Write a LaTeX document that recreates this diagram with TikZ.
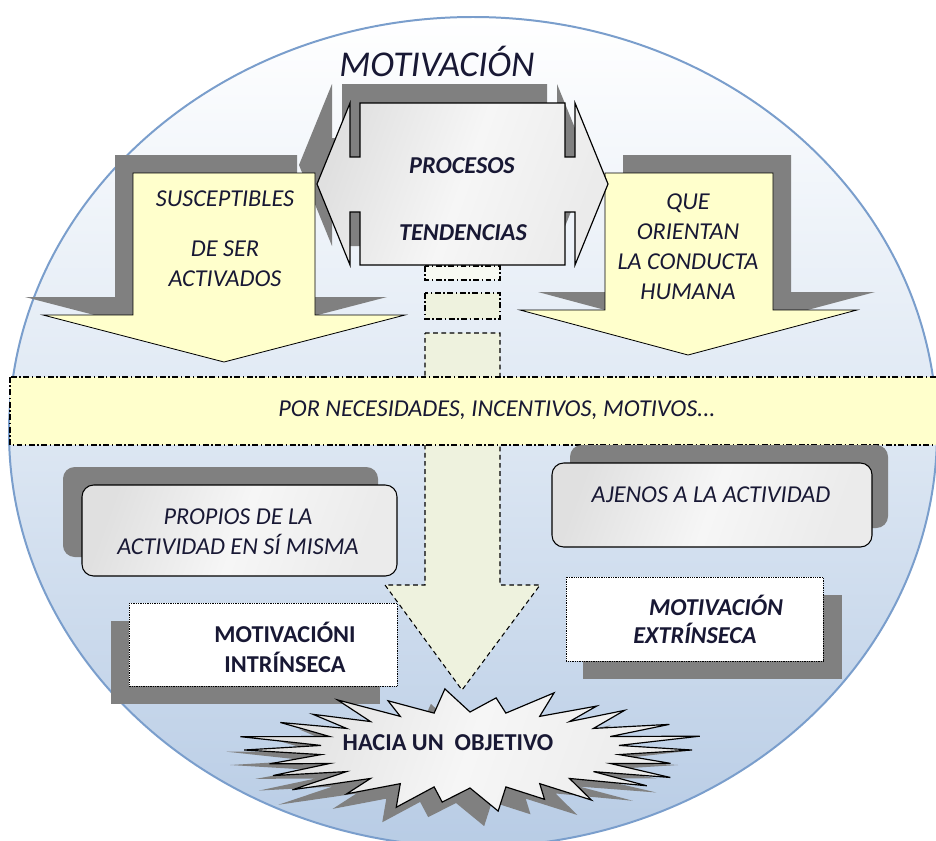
\documentclass[tikz,border=0pt]{standalone}
\usepackage{fontspec}
\setmainfont{Carlito}
\usetikzlibrary{positioning}

\definecolor{ink}{RGB}{24,24,52}
\definecolor{paleyellow}{RGB}{255,255,204}
\definecolor{shadowgray}{RGB}{128,128,128}
\definecolor{rimblue}{RGB}{122,158,204}
\definecolor{skymid}{RGB}{221,231,243}
\definecolor{skylow}{RGB}{184,204,229}
\definecolor{palegreen}{RGB}{238,242,222}

\newcommand{\bodytext}{\fontsize{20.7}{25.5}\selectfont}
% outlines reused for the shapes and their shadows
\newcommand{\hubpath}{(360,103) -- (565,103) -- (565,157) -- (575,157) -- (575,103) -- (608,184) -- (575,265) -- (575,212) -- (565,212) -- (565,265) -- (360,265) -- (360,212) -- (350,212) -- (350,265) -- (317,184) -- (350,103) -- (350,157) -- (360,157) -- cycle}
\newcommand{\leftdrop}{(133,173) -- (315,173) -- (315,315) -- (405,315) -- (224,362) -- (43,315) -- (133,315) -- cycle}
\newcommand{\rightdrop}{(605,173) -- (773,173) -- (773,310) -- (857,310) -- (688,355) -- (520,310) -- (605,310) -- cycle}
\newcommand{\goalstar}{(692,750) \foreach \i [evaluate=\i as \rx using {isodd(\i) ? 150 : 222*(1+0.07*sin(\i*131))}, evaluate=\i as \ry using {isodd(\i) ? 38 : 57*(1+0.08*sin(\i*97))}] in {1,...,51} { -- ({470+\rx*cos(\i/52*360)}, {750+\ry*sin(\i/52*360)}) } -- cycle}

\begin{document}
\begin{tikzpicture}[x=0.03cm, y=-0.03cm,
    shadow/.style={fill=shadowgray, draw=none},
    yellowarrow/.style={fill=paleyellow, draw=black, line width=0.7pt},
    marble/.style={draw=black, line width=0.9pt, left color=gray!24, right color=gray!16, middle color=gray!7, shading angle=70},
    whitebox/.style={fill=white, draw=black, line width=0.8pt, dash pattern=on 0.6pt off 0.9pt},
    dashdot/.style={draw=black, line width=0.9pt, dash pattern=on 5pt off 2.2pt on 1.2pt off 2.2pt},
    txt/.style={text=ink, align=center, inner sep=0pt, font=\bodytext},
    itxt/.style={txt, font=\itshape\bodytext},
    btxt/.style={txt, font=\bfseries\bodytext},
    bitxt/.style={txt, font=\bfseries\itshape\bodytext}
]
\useasboundingbox (0,0) rectangle (936,840);

% background disc
\draw[rimblue, line width=1.7pt, top color=white, bottom color=skylow, middle color=skymid] (473,432) ellipse [x radius=464, y radius=415];

% down arrow towards the goal
\path[fill=palegreen, draw=black, line width=0.9pt, dash pattern=on 4pt off 3pt] (425,333) -- (500,333) -- (500,585) -- (540,585) -- (462,690) -- (385,585) -- (425,585) -- cycle;
\draw[dashdot, fill=white!60!palegreen] (425,266) rectangle (500,280);
\draw[dashdot, fill=palegreen] (425,293) rectangle (500,319);

% shadows of the top shapes
\fill[shadow, shift={(-18,-19)}] \hubpath;
\fill[shadow, shift={(-18,-18)}] \leftdrop;
\fill[shadow, shift={(18,-18)}] \rightdrop;

% yellow arrows and central box
\path[yellowarrow] \leftdrop;
\path[yellowarrow] \rightdrop;
\path[marble, line width=1pt] \hubpath;

% band
\path[dashdot, fill=paleyellow] (10,377) rectangle (945,445);

% marble boxes
\fill[shadow, rounded corners=10pt] (63,467) rectangle (378,557);
\path[marble, rounded corners=10pt] (82,485) rectangle (397,576);
\fill[shadow, rounded corners=10pt] (570,445) rectangle (888,528);
\path[marble, rounded corners=10pt] (552,463) rectangle (872,547);

% white boxes
\fill[shadow] (111,621) rectangle (380,704);
\path[whitebox] (129,603) rectangle (397,686);
\fill[shadow] (583,595) rectangle (842,679);
\path[whitebox] (566,577) rectangle (823,661);

% goal burst
\fill[shadow, shift={(-14,15)}] \goalstar;
\path[marble, line width=1pt] \goalstar;

% texts
\node[itxt, font=\itshape\fontsize{31}{36}\selectfont] (title) at (437,61) {MOTIVACIÓN};
\node[bitxt] (procesos) at (462,166) {PROCESOS};
\node[bitxt] (tendencias) at (463,233) {TENDENCIAS};
\node[itxt] (activados) at (225,239) {SUSCEPTIBLES\\[17pt]DE SER\\ACTIVADOS};
\node[itxt] (orientan) at (688,247) {QUE\\ORIENTAN\\LA CONDUCTA\\HUMANA};
\node[itxt] (motivos) at (497,410) {POR NECESIDADES, INCENTIVOS, MOTIVOS...};
\node[itxt] (propios) at (238,532) {PROPIOS DE LA\\ACTIVIDAD EN SÍ MISMA};
\node[itxt] (ajenos) at (711,495) {AJENOS A LA ACTIVIDAD};
\node[btxt] (intrinseca) at (285,647) {MOTIVACIÓNI\\INTRÍNSECA};
\node[bitxt] (extrin1) at (716,605) {MOTIVACIÓN};
\node[bitxt] (extrin2) at (695,633) {EXTRÍNSECA};
\node[btxt] (objetivo) at (448,743) {HACIA UN\ \ OBJETIVO};
\end{tikzpicture}
\end{document}
